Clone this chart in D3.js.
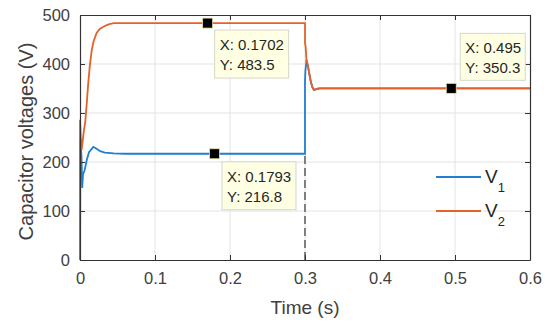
<!DOCTYPE html>
<html>
<head>
<meta charset="utf-8">
<script src="https://cdn.jsdelivr.net/npm/d3@7"></script>
<style>
  body { margin: 0; background: #fff; }
  svg { font-family: "Liberation Sans", Arial, sans-serif; }
</style>
</head>
<body>
<div id="chart"></div>
<script>
// V1 (blue) samples
var tV1 = [0, 0.0005, 0.002, 0.003, 0.004, 0.006, 0.009, 0.012, 0.0178, 0.022, 0.027, 0.033, 0.045, 0.06, 0.3,
           0.3, 0.3005, 0.302, 0.304, 0.306, 0.308, 0.310, 0.312, 0.314, 0.317, 0.32, 0.6];
var v1  = [0, 245, 210, 147, 175, 182, 204, 220, 231, 227, 222, 219, 217.5, 216.8, 216.8,
           365, 385, 408, 395, 378, 362, 352, 347, 348, 349.5, 350.3, 350.3];

// V2 (orange) samples
var tV2 = [0, 0, 0.001, 0.002, 0.003, 0.005, 0.007, 0.009, 0.011, 0.013, 0.0156, 0.018, 0.022, 0.026, 0.031, 0.038, 0.045, 0.3,
           0.3, 0.3008, 0.302, 0.304, 0.306, 0.308, 0.310, 0.312, 0.314, 0.317, 0.32, 0.6];
var v2  = [0, 286, 250, 224, 235, 262, 282, 320, 361, 395, 428, 446, 463, 471, 476, 481, 483.5, 483.5,
           443, 436, 408, 395, 378, 362, 352, 347, 348, 349.5, 350.3, 350.3];

// data tips
var tipX = [0.1702, 0.1793, 0.495];
var tipY = [483.5, 216.8, 350.3];

// switching instant marker
var switchT = 0.3;
var switchV = 216.8;

var xTicks = [0, 0.1, 0.2, 0.3, 0.4, 0.5, 0.6];
var yTicks = [0, 100, 200, 300, 400, 500];
var legendNames = ["V", "V"];
var legendSubs = ["1", "2"];

var width = 550, height = 324;
var margin = {top: 15, right: 20, bottom: 64, left: 80};
var innerW = width - margin.left - margin.right;
var innerH = height - margin.top - margin.bottom;

var blue = "#1f7fd0";
var orange = "#e4622a";
var axisColor = "#333333";
var textColor = "#404040";

var svg = d3.select("#chart").append("svg")
  .attr("width", width)
  .attr("height", height);

var g = svg.append("g")
  .attr("transform", "translate(" + margin.left + "," + margin.top + ")");

var x = d3.scaleLinear().domain([0, 0.6]).range([0, innerW]);
var y = d3.scaleLinear().domain([0, 500]).range([innerH, 0]);

// grid lines
g.append("g").selectAll("line")
  .data(xTicks.slice(1, -1))
  .enter().append("line")
  .attr("x1", function(d) { return x(d); })
  .attr("x2", function(d) { return x(d); })
  .attr("y1", 0).attr("y2", innerH)
  .style("stroke", "#e3e3e3").style("stroke-width", 1);

g.append("g").selectAll("line")
  .data(yTicks.slice(1, -1))
  .enter().append("line")
  .attr("x1", 0).attr("x2", innerW)
  .attr("y1", function(d) { return y(d); })
  .attr("y2", function(d) { return y(d); })
  .style("stroke", "#e3e3e3").style("stroke-width", 1);

// curves
var line = d3.line()
  .x(function(d) { return x(d[0]); })
  .y(function(d) { return y(d[1]); });

g.append("path")
  .datum(d3.zip(tV1, v1))
  .attr("d", line)
  .style("fill", "none").style("stroke", blue).style("stroke-width", 1.8);

g.append("path")
  .datum(d3.zip(tV2, v2))
  .attr("d", line)
  .style("fill", "none").style("stroke", orange).style("stroke-width", 1.8);

// dashed line at switching instant
g.append("line")
  .attr("x1", x(switchT)).attr("x2", x(switchT))
  .attr("y1", y(0)).attr("y2", y(switchV))
  .style("stroke", "#7f7f7f").style("stroke-width", 2)
  .style("stroke-dasharray", "8,4");

// axes (box with inward ticks on all sides)
var xAxisB = d3.axisBottom(x).tickValues(xTicks).tickSizeInner(-5).tickSizeOuter(0).tickPadding(12)
  .tickFormat(function(d) { return d === 0 ? "0" : d3.format(".1f")(d); });
var xAxisT = d3.axisTop(x).tickValues(xTicks).tickSizeInner(-5).tickSizeOuter(0).tickFormat("");
var yAxisL = d3.axisLeft(y).tickValues(yTicks).tickSizeInner(-5).tickSizeOuter(0).tickPadding(10);
var yAxisR = d3.axisRight(y).tickValues(yTicks).tickSizeInner(-5).tickSizeOuter(0).tickFormat("");

var axes = [
  g.append("g").attr("transform", "translate(0," + innerH + ")").call(xAxisB),
  g.append("g").call(xAxisT),
  g.append("g").call(yAxisL),
  g.append("g").attr("transform", "translate(" + innerW + ",0)").call(yAxisR)
];
axes.forEach(function(a) {
  a.select(".domain").style("stroke", axisColor).style("stroke-width", 1.2);
  a.selectAll(".tick line").style("stroke", axisColor).style("stroke-width", 1);
  a.selectAll("text").style("fill", textColor).style("font-size", "16.5px")
    .style("font-family", "'Liberation Sans', Arial, sans-serif");
});

// axis labels
svg.append("text")
  .attr("x", margin.left + innerW / 2)
  .attr("y", 314)
  .attr("text-anchor", "middle")
  .style("font-size", "19px").style("fill", textColor)
  .text("Time (s)");

svg.append("text")
  .attr("transform", "translate(33," + (margin.top + innerH / 2 + 4) + ") rotate(-90)")
  .attr("text-anchor", "middle")
  .style("font-size", "20px").style("fill", textColor)
  .text("Capacitor voltages (V)");

// data tips
var tipBoxes = [
  {dx: 7, dy: 7, w: 74, h: 48},
  {dx: 7.5, dy: 8, w: 74, h: 48},
  {dx: 9, dy: -55, w: 65, h: 47}
];

tipX.forEach(function(tx, i) {
  var px = x(tx), py = y(tipY[i]);
  var b = tipBoxes[i];
  var tip = g.append("g").attr("transform", "translate(" + (px + b.dx) + "," + (py + b.dy) + ")");
  tip.append("rect")
    .attr("width", b.w).attr("height", b.h)
    .style("fill", "#ffffe3").style("stroke", "#d6d6c8").style("stroke-width", 1);
  tip.append("text")
    .attr("x", 5).attr("y", 20)
    .style("font-size", "15px").style("fill", "#262626")
    .text("X: " + tx);
  tip.append("text")
    .attr("x", 5).attr("y", 40)
    .style("font-size", "15px").style("fill", "#262626")
    .text("Y: " + tipY[i]);
});

// data tip markers
g.append("g").selectAll("rect")
  .data(d3.zip(tipX, tipY))
  .enter().append("rect")
  .attr("x", function(d) { return x(d[0]) - 5; })
  .attr("y", function(d) { return y(d[1]) - 5; })
  .attr("width", 10).attr("height", 10)
  .style("fill", "#000").style("stroke", "#e8e0b0").style("stroke-width", 0.8);

// legend
var legend = svg.append("g").attr("transform", "translate(436,177)");
var entries = legend.selectAll("g")
  .data([blue, orange])
  .enter().append("g")
  .attr("transform", function(d, i) { return "translate(0," + i * 34 + ")"; });

entries.append("line")
  .attr("x1", 0).attr("x2", 45)
  .style("stroke", function(d) { return d; }).style("stroke-width", 2);

var lt = entries.append("text")
  .attr("x", 49).attr("y", 6)
  .style("font-size", "19px").style("fill", "#262626");
lt.append("tspan").text(function(d, i) { return legendNames[i]; });
lt.append("tspan").attr("dy", 9).style("font-size", "13px")
  .text(function(d, i) { return legendSubs[i]; });
</script>
</body>
</html>
